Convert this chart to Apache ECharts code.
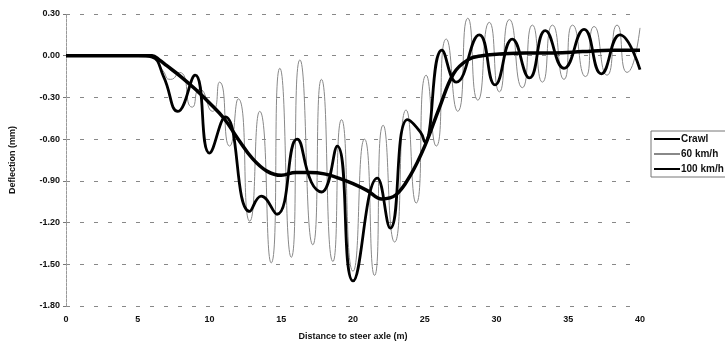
<!DOCTYPE html>
<html>
<head>
<meta charset="utf-8">
<script src="https://cdn.jsdelivr.net/npm/echarts@6/dist/echarts.min.js"></script>
<style>
  html, body { margin: 0; padding: 0; background: #fff; }
  #chart { width: 725px; height: 348px; }
</style>
</head>
<body>
<div id="chart"></div>
<script>
// Crawl (static deflection)
var crawlX = [0, 2, 4, 5, 6, 6.5, 7, 8, 9, 10, 11, 12, 13, 14, 15, 16, 17, 18, 19, 20, 21, 22, 23, 24, 25, 26, 27, 28, 29, 30, 32, 34, 36, 38, 40];
var crawlY = [0, 0, 0, 0, 0, -0.03, -0.07, -0.15, -0.24, -0.34, -0.45, -0.60, -0.74, -0.83, -0.86, -0.84, -0.84, -0.85, -0.88, -0.92, -0.97, -1.03, -1.00, -0.86, -0.65, -0.38, -0.13, -0.03, 0.00, 0.01, 0.02, 0.02, 0.03, 0.04, 0.04];

// 60 km/h (peaks and troughs)
var kmh60X = [0, 5, 6, 6.7, 7.3, 7.9, 8.8, 9.3, 10.2, 10.7, 11.4, 12.0, 12.8, 13.5, 14.3, 14.9, 15.7, 16.3, 17.2, 17.8, 18.6, 19.2, 20.0, 20.8, 21.5, 22.1, 22.9, 23.7, 24.4, 25.1, 25.8, 26.5, 27.3, 28.0, 28.7, 29.5, 30.2, 30.9, 31.8, 32.5, 33.2, 33.9, 34.7, 35.3, 36.2, 36.8, 37.7, 38.4, 39.1, 40];
var kmh60Y = [0, 0, -0.01, -0.10, -0.17, -0.12, -0.37, -0.24, -0.40, -0.19, -0.65, -0.31, -1.19, -0.40, -1.49, -0.09, -1.45, -0.03, -1.36, -0.17, -1.48, -0.46, -1.55, -0.60, -1.58, -0.50, -1.34, -0.39, -1.06, -0.14, -0.65, 0.12, -0.40, 0.27, -0.32, 0.24, -0.26, 0.26, -0.23, 0.22, -0.19, 0.22, -0.17, 0.22, -0.15, 0.21, -0.14, 0.22, -0.12, 0.20];

// 100 km/h
var kmh100X = [0, 5, 6, 6.8, 7.8, 9.0, 10.0, 11.1, 12.8, 13.6, 14.7, 16.1, 17.1, 17.8, 18.9, 20.0, 21.7, 22.6, 23.8, 24.7, 25.0, 26.2, 27.2, 28.8, 29.9, 31.1, 32.3, 33.4, 34.7, 36.1, 37.3, 38.6, 40];
var kmh100Y = [0, 0, -0.01, -0.15, -0.40, -0.14, -0.70, -0.44, -1.12, -1.01, -1.14, -0.60, -0.91, -0.98, -0.65, -1.62, -0.88, -1.24, -0.46, -0.55, -0.62, 0.04, -0.19, 0.15, -0.21, 0.12, -0.16, 0.18, -0.09, 0.19, -0.13, 0.15, -0.10];

function pairs(xs, ys) {
  return xs.map(function (x, i) { return [x, ys[i]]; });
}

var font = 'Liberation Sans, Arial, sans-serif';
var chart = echarts.init(document.getElementById('chart'));

var option = {
  animation: false,
  grid: { left: 65, right: 85, top: 14, bottom: 42 },
  legend: {
    orient: 'vertical',
    left: 651,
    top: 131,
    itemGap: 5,
    itemWidth: 26,
    itemHeight: 8,
    padding: [3, 3, 3, 2],
    borderColor: '#777',
    borderWidth: 1,
    itemStyle: { opacity: 0 },
    textStyle: { fontFamily: font, fontWeight: 'bold', fontSize: 10, color: '#111', padding: [0, 0, 0, -4] },
    data: ['Crawl', '60 km/h', '100 km/h']
  },
  xAxis: {
    type: 'value',
    min: 0,
    max: 40,
    interval: 5,
    name: 'Distance to steer axle (m)',
    nameLocation: 'middle',
    nameGap: 26,
    nameTextStyle: { fontFamily: font, fontWeight: 'bold', fontSize: 9, color: '#111' },
    axisLine: { show: false },
    axisTick: { show: false },
    splitLine: { show: false },
    axisLabel: { fontFamily: font, fontWeight: 'bold', fontSize: 9, color: '#111', margin: 9 }
  },
  yAxis: {
    type: 'value',
    min: -1.8,
    max: 0.3,
    interval: 0.3,
    name: 'Deflection (mm)',
    nameLocation: 'middle',
    nameRotate: 90,
    nameGap: 49,
    nameTextStyle: { fontFamily: font, fontWeight: 'bold', fontSize: 9, color: '#111' },
    axisLine: { show: true, lineStyle: { color: '#999', width: 1, type: [3, 1] } },
    axisTick: { show: true, length: 3, inside: false, lineStyle: { color: '#777' } },
    splitLine: { show: true, lineStyle: { color: '#888', width: 1, type: [4, 10] } },
    axisLabel: {
      fontFamily: font, fontWeight: 'bold', fontSize: 9, color: '#111', margin: 6,
      formatter: function (v) { return v.toFixed(2); }
    }
  },
  series: [
    {
      name: 'Crawl',
      type: 'line',
      data: pairs(crawlX, crawlY),
      smooth: 0.4,
      symbol: 'none',
      z: 4,
      color: '#000',
      lineStyle: { color: '#000', width: 3.5 }
    },
    {
      name: '60 km/h',
      type: 'line',
      data: pairs(kmh60X, kmh60Y),
      smooth: 0.7,
      symbol: 'none',
      z: 2,
      color: '#888',
      lineStyle: { color: '#888', width: 1 }
    },
    {
      name: '100 km/h',
      type: 'line',
      data: pairs(kmh100X, kmh100Y),
      smooth: 0.5,
      symbol: 'none',
      z: 3,
      color: '#000',
      lineStyle: { color: '#000', width: 2.8 }
    }
  ]
};

chart.setOption(option);
</script>
</body>
</html>
